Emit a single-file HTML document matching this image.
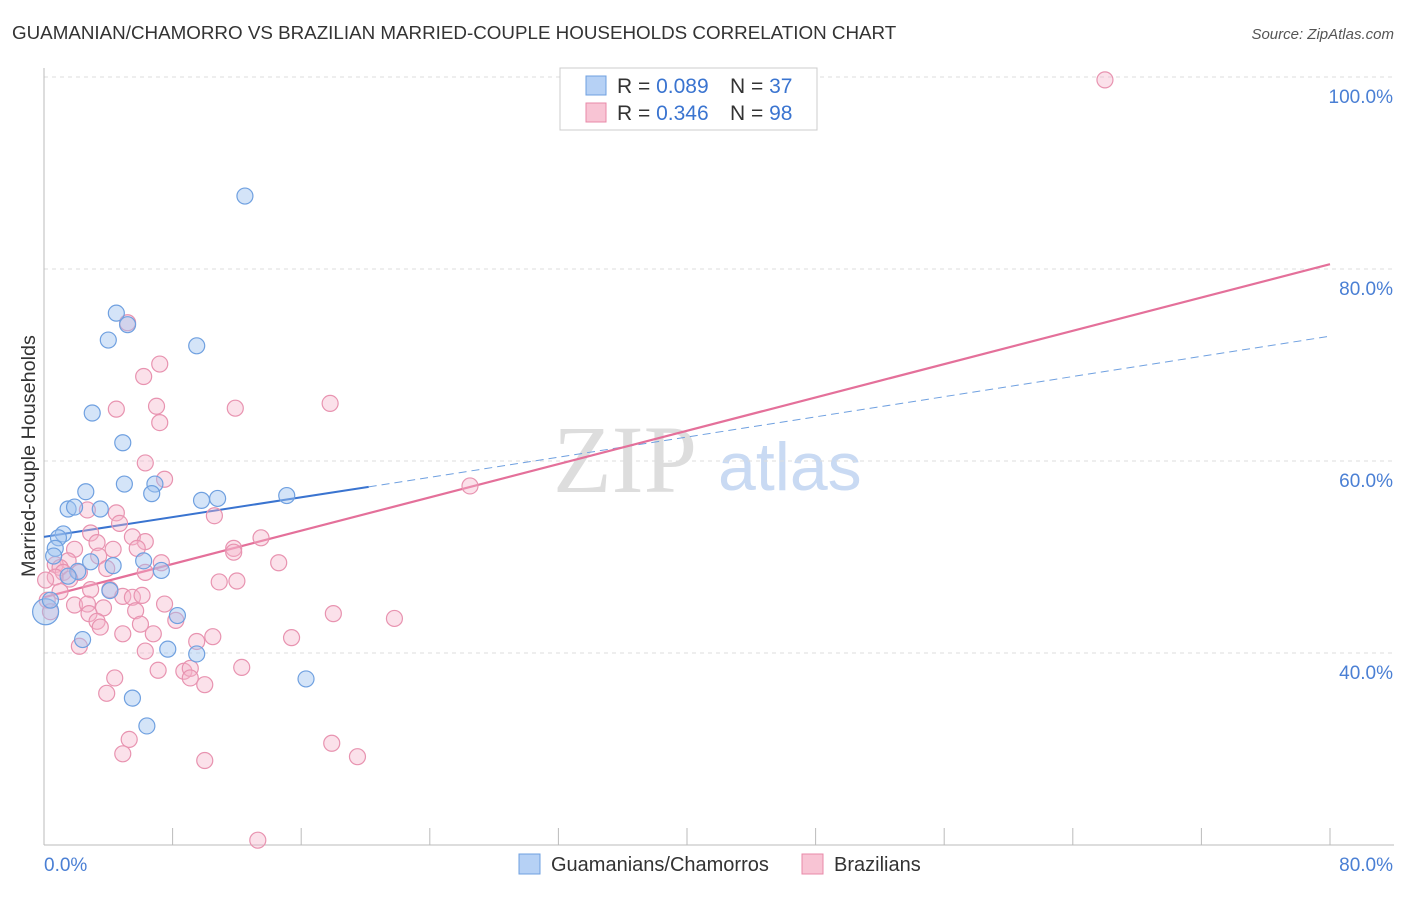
<!DOCTYPE html>
<html><head><meta charset="utf-8">
<style>
body{margin:0;background:#fff;font-family:"Liberation Sans",sans-serif;}
svg text{font-family:"Liberation Sans",sans-serif;}
</style></head>
<body>
<svg id="chart" width="1406" height="892" viewBox="0 0 1406 892" xmlns="http://www.w3.org/2000/svg">
<text x="12" y="39" font-size="18.8" fill="#333">GUAMANIAN/CHAMORRO VS BRAZILIAN MARRIED-COUPLE HOUSEHOLDS CORRELATION CHART</text>
<text x="1394" y="39" font-size="15" fill="#555" text-anchor="end" font-style="italic">Source: ZipAtlas.com</text>
<g>
<text x="553" y="492" font-size="96" fill="#ddd" font-family="Liberation Serif" style="font-family:'Liberation Serif',serif">ZIP</text>
<text x="718" y="490" font-size="68" fill="#c9daf3">atlas</text>
</g>
<g id="grid"></g>
<g id="axes"></g>
<g id="lines"></g>
<g id="points"></g>
<text transform="translate(35,456) rotate(-90)" font-size="19.8" fill="#333" text-anchor="middle">Married-couple Households</text>
<g>
<rect x="560" y="68" width="257" height="62" fill="#fff" stroke="#ccc"/>
<rect x="586" y="76" width="20" height="19" fill="#b6d1f5" stroke="#6fa0e0"/>
<rect x="586" y="103" width="20" height="19" fill="#f8c4d4" stroke="#e88aa8"/>
<text x="617" y="93" font-size="21" fill="#333">R = <tspan fill="#3a74d0">0.089</tspan></text>
<text x="730" y="93" font-size="21" fill="#333">N = <tspan fill="#3a74d0">37</tspan></text>
<text x="617" y="120" font-size="21" fill="#333">R = <tspan fill="#3a74d0">0.346</tspan></text>
<text x="730" y="120" font-size="21" fill="#333">N = <tspan fill="#3a74d0">98</tspan></text>
</g>
<g>
<rect x="519" y="854" width="21" height="20" fill="#b6d1f5" stroke="#6fa0e0"/>
<text x="551" y="871" font-size="20" fill="#333">Guamanians/Chamorros</text>
<rect x="802" y="854" width="21" height="20" fill="#f8c4d4" stroke="#e88aa8"/>
<text x="834" y="871" font-size="20" fill="#333">Brazilians</text>
</g>
</svg>
<script>
const yTicks=[40,60,80,100];
const xTickLabels=["0.0%","80.0%"];
const blueX=[12.5,4.5,5.2,4.0,9.5,3.0,4.9,5.0,6.9,6.7,2.6,9.8,10.8,15.1,1.5,1.9,3.5,1.2,0.9,0.7,0.6,2.9,4.3,6.2,7.3,2.1,1.5,4.1,8.3,2.4,7.7,9.5,16.3,5.5,6.4,0.1,0.4];
const blueY=[87.6,75.4,74.2,72.6,72.0,65.0,61.9,57.6,57.6,56.6,56.8,55.9,56.1,56.4,55.0,55.2,55.0,52.4,52.0,50.9,50.1,49.5,49.1,49.6,48.6,48.5,48.0,46.5,43.9,41.4,40.4,39.9,37.3,35.3,32.4,44.3,45.5];
const pinkX=[66.0,5.2,7.2,6.2,4.5,7.0,11.9,17.8,7.2,6.3,7.5,26.5,2.7,4.5,4.7,10.6,2.9,5.5,6.3,3.3,13.5,11.8,11.8,1.9,4.3,5.8,3.4,7.3,14.6,1.5,0.7,1.0,1.2,2.2,3.9,6.3,0.7,1.6,10.9,12.0,2.9,4.1,4.9,5.5,6.1,1.0,1.9,2.7,3.7,7.5,5.7,2.8,8.2,18.0,21.8,3.3,3.5,6.0,4.9,6.8,10.5,9.5,15.4,2.2,6.3,7.1,8.7,9.1,12.3,9.1,4.4,10.0,3.9,5.3,17.9,4.9,19.5,10.0,13.3,0.2,0.4,0.1];
const pinkY=[99.7,74.4,70.1,68.8,65.4,65.7,65.5,66.0,64.0,59.8,58.1,57.4,54.9,54.6,53.5,54.3,52.5,52.1,51.6,51.5,52.0,50.9,50.5,50.8,50.8,50.9,50.1,49.4,49.4,49.6,49.2,48.9,48.4,48.4,48.8,48.4,47.9,47.7,47.4,47.5,46.6,46.6,45.9,45.8,46.0,46.4,45.0,45.1,44.7,45.1,44.4,44.1,43.4,44.1,43.6,43.3,42.7,43.0,42.0,42.0,41.7,41.2,41.6,40.7,40.2,38.2,38.1,38.4,38.5,37.4,37.4,36.7,35.8,31.0,30.6,29.5,29.2,28.8,20.5,45.5,44.3,47.6];
const blueTrend=[[0,52.1],[20.2,57.3],[80,73.0]];
const pinkTrend=[[0,45.8],[80,80.5]];
const NS="http://www.w3.org/2000/svg";
const sx=v=>44+v/80*1286;
const sy=v=>845-(v-20)*9.6;
function mk(tag,attrs,parent){const e=document.createElementNS(NS,tag);for(const k in attrs)e.setAttribute(k,attrs[k]);parent.appendChild(e);return e;}
const grid=document.getElementById('grid'),axes=document.getElementById('axes'),lines=document.getElementById('lines'),pts=document.getElementById('points');
yTicks.forEach(t=>{
 const l=mk('line',{x1:44,x2:1394,y1:sy(t),y2:sy(t),stroke:'#ddd','stroke-dasharray':'4,4'},grid);
 
 
 const tx=mk('text',{x:1393,y:sy(t)+26,'font-size':19,fill:'#4a7fd4','text-anchor':'end'},axes);
 tx.textContent=t.toFixed(1)+'%';
 
 
});
const ax=mk('line',{x1:44,x2:1394,y1:845,y2:845,stroke:'#bbb'},axes);


const ay=mk('line',{x1:44,x2:44,y1:68,y2:845,stroke:'#bbb'},axes);


for(let i=0;i<=10;i++){const t=mk('line',{x1:sx(i*8),x2:sx(i*8),y1:828,y2:845,stroke:'#bbb'},axes);
 
 }
[[0,'start',44],[80,'end',1393]].forEach((p,i)=>{const t=mk('text',{x:p[2],y:871,'font-size':19,fill:'#4a7fd4','text-anchor':p[1]},axes);t.textContent=xTickLabels[i];
 
 });
const bs=mk('line',{x1:sx(blueTrend[0][0]),y1:sy(blueTrend[0][1]),x2:sx(blueTrend[1][0]),y2:sy(blueTrend[1][1]),stroke:'#3a74d0','stroke-width':2},lines);


const bd=mk('line',{x1:sx(blueTrend[1][0]),y1:sy(blueTrend[1][1]),x2:sx(blueTrend[2][0]),y2:sy(blueTrend[2][1]),stroke:'#6fa0e0','stroke-width':1,'stroke-dasharray':'8,5'},lines);


const pl=mk('line',{x1:sx(pinkTrend[0][0]),y1:sy(pinkTrend[0][1]),x2:sx(pinkTrend[1][0]),y2:sy(pinkTrend[1][1]),stroke:'#e4709a','stroke-width':2.2},lines);


pinkX.forEach((x,i)=>{const c=mk('circle',{cx:sx(x),cy:sy(pinkY[i]),r:8,fill:'rgba(246,180,202,0.4)',stroke:'#e893b0','stroke-width':1.2},pts);
 
 });
blueX.forEach((x,i)=>{const c=mk('circle',{cx:sx(x),cy:sy(blueY[i]),r:(i==35?13:8),fill:'rgba(160,196,240,0.45)',stroke:'#6fa0e0','stroke-width':1.2},pts);
 
 });
</script>
</body></html>
